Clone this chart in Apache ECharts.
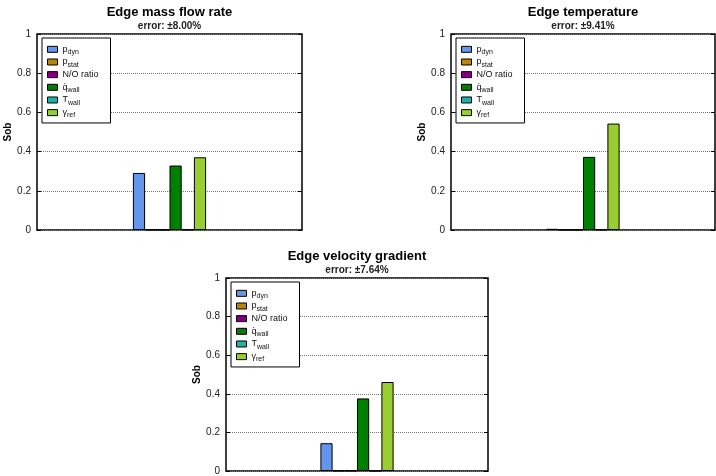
<!DOCTYPE html>
<html>
<head>
<meta charset="utf-8">
<script src="https://cdn.jsdelivr.net/npm/echarts@6/dist/echarts.min.js"></script>
<style>
  html, body { margin: 0; padding: 0; background: #fff; }
  #chart { width: 716px; height: 476px; }
</style>
</head>
<body>
<div id="chart"></div>
<script>
// Sobol indices of each input parameter for three edge quantities
const categories = [''];
const paramMain = ['p', 'p', 'N/O ratio', 'q\u0307', 'T', '\u03b3'];
const paramSub = ['dyn', 'stat', '', 'wall', 'wall', 'ref'];
const paramColors = ['#6495ED', '#B8860B', '#800080', '#008000', '#20B2AA', '#9ACD32'];

const massFlowSob = [0.291, 0.002, 0.001, 0.329, 0.002, 0.371];
const temperatureSob = [0.006, 0.001, 0.001, 0.373, 0.002, 0.543];
const velocityGradSob = [0.144, 0.002, 0.002, 0.376, 0.001, 0.461];

const panelTitles = ['Edge mass flow rate', 'Edge temperature', 'Edge velocity gradient'];
const panelErrors = ['error: \u00b18.00%', 'error: \u00b19.41%', 'error: \u00b17.64%'];
const yTicks = [0, 0.2, 0.4, 0.6, 0.8, 1];

const FONT = '"Liberation Sans", Arial, Helvetica, sans-serif';
const panels = [
  { left: 37, top: 34, width: 265, height: 196, data: massFlowSob },
  { left: 451, top: 34, width: 264, height: 196, data: temperatureSob },
  { left: 226, top: 278, width: 262, height: 195.5, data: velocityGradSob }
];

const seriesNames = paramMain.map((m, i) => m + (paramSub[i] ? '_' + paramSub[i] : ''));

const grids = [], xAxes = [], yAxes = [], titles = [], legends = [], series = [];

panels.forEach((p, k) => {
  grids.push({
    left: p.left, top: p.top, width: p.width, height: p.height,
    show: true, borderColor: '#000', borderWidth: 1.5, backgroundColor: 'transparent'
  });
  xAxes.push({
    type: 'category', gridIndex: k, data: categories,
    axisLine: { show: false }, axisTick: { show: false }, axisLabel: { show: false }
  });
  const yBase = {
    type: 'value', gridIndex: k, min: yTicks[0], max: yTicks[yTicks.length - 1], interval: 0.2,
    axisLine: { show: false },
    axisTick: { show: true, inside: true, length: 4, lineStyle: { color: '#000', width: 1 } }
  };
  yAxes.push(Object.assign({}, yBase, {
    position: 'left',
    name: 'Sob', nameLocation: 'middle', nameGap: 20,
    nameTextStyle: { fontFamily: FONT, fontWeight: 'bold', fontSize: 10, color: '#000' },
    axisLabel: { fontFamily: FONT, fontSize: 10, color: '#222', margin: 6 },
    splitLine: { show: true, lineStyle: { color: '#777', width: 1, type: [1, 1] } }
  }));
  yAxes.push(Object.assign({}, yBase, {
    position: 'right',
    axisLabel: { show: false },
    splitLine: { show: false }
  }));
  titles.push({
    text: panelTitles[k], subtext: panelErrors[k],
    left: p.left + p.width / 2, top: p.top - 28, textAlign: 'center',
    padding: 0, itemGap: 2,
    textStyle: { fontFamily: FONT, fontWeight: 'bold', fontSize: 13, color: '#000', lineHeight: 13 },
    subtextStyle: { fontFamily: FONT, fontWeight: 'bold', fontSize: 10, color: '#222', lineHeight: 10 }
  });
  legends.push({
    orient: 'vertical',
    left: p.left + 5, top: p.top + 4,
    data: seriesNames,
    icon: 'rect',
    itemWidth: 10, itemHeight: 6, itemGap: 0,
    padding: [5, 12, 4, 5],
    backgroundColor: '#fff', borderColor: '#000', borderWidth: 1,
    selectedMode: false,
    itemStyle: { borderColor: '#000', borderWidth: 1 },
    formatter: name => {
      const i = seriesNames.indexOf(name);
      return paramSub[i] ? '{m|' + paramMain[i] + '}{s|' + paramSub[i] + '}' : '{m|' + paramMain[i] + '}';
    },
    textStyle: {
      fontFamily: FONT, fontSize: 9, color: '#111', lineHeight: 12.66,
      rich: {
        m: { fontFamily: FONT, fontSize: 9, color: '#111', lineHeight: 12.66 },
        s: { fontFamily: FONT, fontSize: 7, color: '#111', lineHeight: 12.66, verticalAlign: 'bottom' }
      }
    }
  });
  seriesNames.forEach((name, i) => {
    series.push({
      type: 'bar', name: name,
      xAxisIndex: k, yAxisIndex: 2 * k,
      data: [p.data[i]],
      barWidth: 12.2, barGap: '0%',
      itemStyle: { color: paramColors[i], borderColor: '#000', borderWidth: 1 },
      emphasis: { disabled: true }
    });
  });
});

const chart = echarts.init(document.getElementById('chart'), null, { renderer: 'canvas' });
chart.setOption({
  animation: false,
  backgroundColor: '#fff',
  title: titles,
  legend: legends,
  grid: grids,
  xAxis: xAxes,
  yAxis: yAxes,
  series: series
});
</script>
</body>
</html>
